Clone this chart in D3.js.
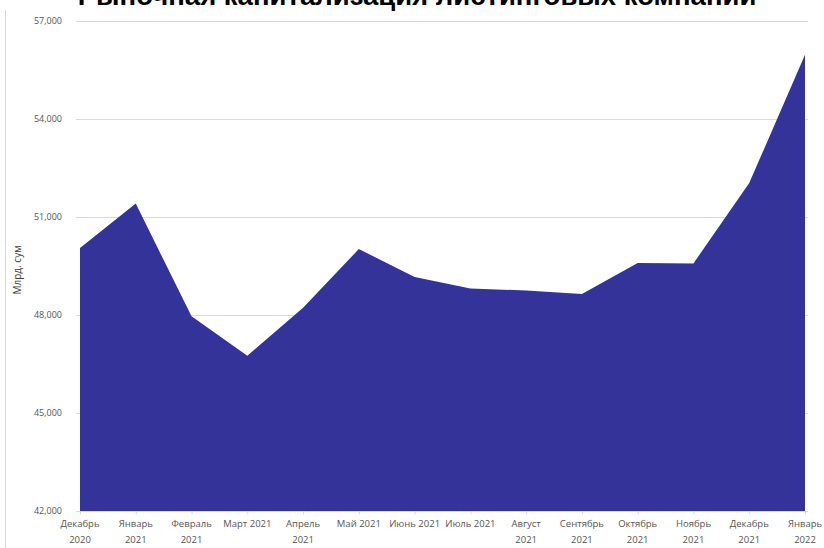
<!DOCTYPE html>
<html lang="ru">
<head>
<meta charset="utf-8">
<script src="https://cdn.jsdelivr.net/npm/d3@7"></script>
<style>
  html, body { margin: 0; padding: 0; background: #fff; }
  svg { display: block; }
</style>
</head>
<body>
<svg id="chart" width="824" height="548"></svg>
<script>
// Месяцы и рыночная капитализация, млрд сум
const months = [
  "Декабрь 2020", "Январь 2021", "Февраль 2021", "Март 2021", "Апрель 2021",
  "Май 2021", "Июнь 2021", "Июль 2021", "Август 2021", "Сентябрь 2021",
  "Октябрь 2021", "Ноябрь 2021", "Декабрь 2021", "Январь 2022"
];
const capitalization = [
  50050, 51410, 47960, 46750, 48220, 50020, 49160,
  48810, 48750, 48640, 49590, 49580, 52040, 55970
];
const yTicks = [42000, 45000, 48000, 51000, 54000, 57000];

const title = "Рыночная капитализация листинговых компаний";
const yTitle = "Млрд. сум";

const svg = d3.select("#chart");
const W = 824, H = 548;
const plot = { left: 80, right: 805, top: 21, bottom: 511 };

const x = d3.scalePoint().domain(months).range([plot.left, plot.right]);
const y = d3.scaleLinear().domain([42000, 57000]).range([plot.bottom, plot.top]);

const fmt = d3.format(",");
const labelFont = "'Open Sans', 'DejaVu Sans', sans-serif";

// рамка области диаграммы слева
svg.append("line")
  .attr("x1", 5.5).attr("x2", 5.5).attr("y1", 10).attr("y2", H)
  .attr("stroke", "#d9d9d9").attr("stroke-width", 1);

// сетка
svg.append("g")
  .selectAll("line")
  .data(yTicks.filter(d => d !== 42000))
  .join("line")
  .attr("x1", plot.left - 4).attr("x2", plot.right + 3)
  .attr("y1", d => Math.round(y(d)) + 0.5).attr("y2", d => Math.round(y(d)) + 0.5)
  .attr("stroke", "#d9d9d9").attr("stroke-width", 1);

// область
const area = d3.area()
  .x(d => x(d.m))
  .y0(y(42000))
  .y1(d => y(d.v));

const data = months.map((m, i) => ({ m, v: capitalization[i] }));

svg.append("path")
  .datum(data)
  .attr("d", area)
  .attr("fill", "#333399");

// ось X
const xAxis = svg.append("g")
  .attr("transform", `translate(0,${plot.bottom + 0.5})`)
  .call(d3.axisBottom(x).tickSize(3).tickFormat(""));
xAxis.select(".domain").attr("stroke", "#d9d9d9").attr("d", `M${plot.left - 4},0H${plot.right + 3}`);
xAxis.selectAll(".tick line").attr("stroke", "#d9d9d9");

// подписи месяцев (перенос длинных подписей на две строки)
const xl = svg.append("g")
  .attr("font-family", labelFont)
  .attr("font-size", 9.5)
  .attr("fill", "#555")
  .attr("text-anchor", "middle");

months.forEach(m => {
  const [name, year] = m.split(" ");
  const t = xl.append("text").attr("x", x(m)).attr("y", 527);
  if (name.length > 4) {
    t.append("tspan").attr("x", x(m)).text(name);
    t.append("tspan").attr("x", x(m)).attr("dy", 16).text(year);
  } else {
    t.text(m);
  }
});

// ось Y
const yAxis = svg.append("g")
  .attr("transform", `translate(${plot.left - 15},0)`)
  .call(d3.axisLeft(y).tickValues(yTicks).tickSize(0).tickFormat(fmt));
yAxis.select(".domain").remove();
yAxis.selectAll("text")
  .attr("font-family", labelFont)
  .attr("font-size", 9)
  .attr("fill", "#555")
  .attr("x", -3)
  .attr("dy", "0.32em");

// название оси Y
svg.append("text")
  .attr("transform", `translate(21,${(plot.top + plot.bottom) / 2 + 4}) rotate(-90)`)
  .attr("text-anchor", "middle")
  .attr("font-family", labelFont)
  .attr("font-size", 10)
  .attr("fill", "#404040")
  .text(yTitle);

// заголовок
const tt = svg.append("text")
  .attr("x", 417).attr("y", 4.5)
  .attr("text-anchor", "middle")
  .attr("font-family", "'Liberation Sans', Arial, sans-serif")
  .attr("font-weight", "bold")
  .attr("font-size", 20)
  .attr("fill", "#000")
  .text(title);
const w = tt.node().getComputedTextLength();
tt.attr("font-size", 20 * 679 / w);
</script>
</body>
</html>
